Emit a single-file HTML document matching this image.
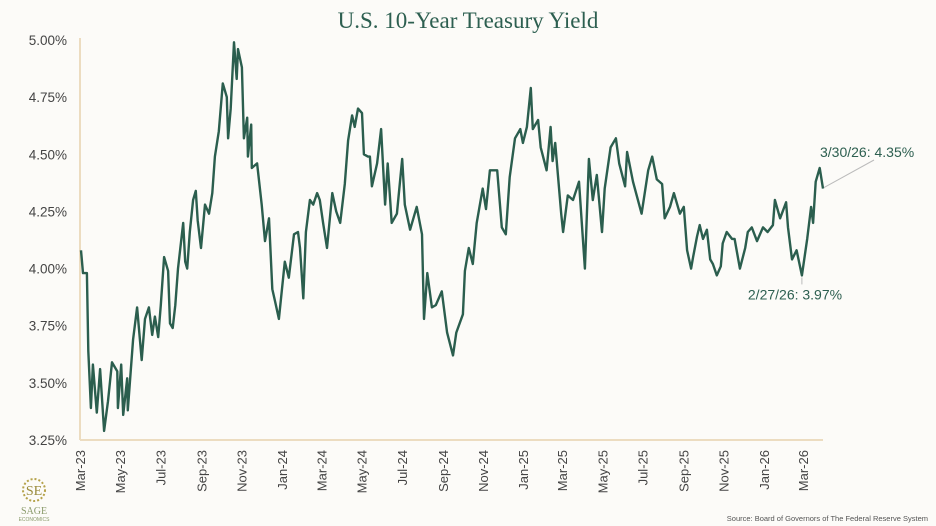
<!DOCTYPE html>
<html><head><meta charset="utf-8"><style>
body{margin:0;background:#fcfbf8;width:936px;height:526px;overflow:hidden;font-family:"Liberation Sans",sans-serif}
svg{display:block}
</style></head><body>
<svg id="chart" width="936" height="526">
<rect width="936" height="526" fill="#fcfbf8"/>
<text x="468" y="28" text-anchor="middle" font-family="Liberation Serif, serif" font-size="23" fill="#2d5f50">U.S. 10-Year Treasury Yield</text>
<g id="yaxis"></g>
<g id="xaxis"></g>
<line x1="80" y1="38" x2="80" y2="440" stroke="#ecdcc0" stroke-width="2"/>
<line x1="80" y1="440" x2="823" y2="440" stroke="#ecdcc0" stroke-width="2"/>
<path id="series" fill="none" stroke="#2b5e4e" stroke-width="2.4" stroke-linejoin="round"/>
<g id="annot"></g>
<text x="928" y="521" text-anchor="end" font-size="7.5" fill="#555">Source: Board of Governors of The Federal Reserve System</text>
<g>
<circle cx="34" cy="490" r="11" fill="none" stroke="#b5a24a" stroke-width="2" stroke-dasharray="2 2"/>
<text x="34" y="495" text-anchor="middle" font-family="Liberation Serif, serif" font-size="14" fill="#9a8b3c">SE</text>
<text x="34" y="514" text-anchor="middle" font-family="Liberation Serif, serif" font-size="10" fill="#8a9a6a">SAGE</text>
<text x="34" y="521" text-anchor="middle" font-size="5" fill="#8a9a6a">ECONOMICS</text>
</g>
</svg>
<script>
const days=[0,3,9,11,15,18,24,29,35,41,47,55,56,61,64,70,71,79,85,92,97,103,108,112,117,121,126,132,135,139,143,147,155,158,161,165,170,174,177,182,188,194,199,203,209,215,221,223,227,232,236,238,244,247,252,253,258,259,267,274,279,285,290,294,300,309,315,323,329,332,337,341,347,352,358,362,367,373,381,387,393,400,405,411,415,420,426,429,435,438,441,449,455,461,465,471,479,487,491,499,509,517,520,525,532,538,547,555,564,569,579,582,588,594,600,609,614,620,631,638,644,650,658,666,670,676,682,685,693,697,706,712,715,719,723,728,731,738,746,755,764,770,776,782,790,794,803,811,816,825,828,837,850,860,866,873,881,885,893,899,908,914,919,925,928,934,938,943,949,954,958,964,970,973,979,987,991,999,1007,1011,1017,1025,1034,1041,1049,1052,1060,1069,1072,1078,1085,1093,1101,1107,1110,1114,1120,1125];
const yields=[4.08,3.98,3.98,3.64,3.39,3.58,3.37,3.56,3.29,3.42,3.59,3.55,3.39,3.58,3.36,3.52,3.38,3.69,3.83,3.60,3.78,3.83,3.71,3.79,3.70,3.84,4.05,3.99,3.76,3.74,3.84,4.00,4.20,4.03,4.00,4.16,4.30,4.34,4.21,4.09,4.28,4.24,4.33,4.49,4.60,4.81,4.75,4.57,4.70,4.99,4.83,4.96,4.88,4.57,4.66,4.49,4.63,4.44,4.46,4.28,4.12,4.22,3.91,3.86,3.78,4.03,3.96,4.15,4.16,4.09,3.87,4.16,4.30,4.28,4.33,4.30,4.20,4.09,4.33,4.25,4.20,4.37,4.56,4.67,4.62,4.70,4.68,4.50,4.49,4.49,4.36,4.46,4.61,4.28,4.46,4.20,4.24,4.48,4.28,4.17,4.27,4.15,3.78,3.98,3.83,3.84,3.90,3.72,3.62,3.72,3.80,3.99,4.09,4.02,4.20,4.35,4.26,4.43,4.43,4.18,4.15,4.40,4.57,4.61,4.55,4.62,4.79,4.61,4.65,4.53,4.43,4.62,4.47,4.55,4.41,4.24,4.16,4.32,4.30,4.38,4.00,4.48,4.30,4.41,4.16,4.35,4.53,4.57,4.46,4.36,4.51,4.38,4.24,4.43,4.49,4.39,4.37,4.22,4.27,4.33,4.24,4.27,4.08,4.00,4.05,4.14,4.19,4.13,4.17,4.04,4.02,3.97,4.01,4.11,4.16,4.13,4.13,4.00,4.09,4.16,4.18,4.12,4.18,4.16,4.19,4.30,4.22,4.29,4.18,4.04,4.08,3.97,4.13,4.27,4.20,4.38,4.44,4.35];
const yTicks=[3.25,3.50,3.75,4.00,4.25,4.50,4.75,5.00];
const xTickLabels=["Mar-23","May-23","Jul-23","Sep-23","Nov-23","Jan-24","Mar-24","May-24","Jul-24","Sep-24","Nov-24","Jan-25","Mar-25","May-25","Jul-25","Sep-25","Nov-25","Jan-26","Mar-26"];
const xTickDays=[0,61,122,184,245,306,366,427,488,550,611,672,731,792,853,915,976,1037,1096];
const endLabel="3/30/26: 4.35%";
const lowLabel="2/27/26: 3.97%";
const lowDay=1093;
const NS="http://www.w3.org/2000/svg";
const X0=81,X1=823,D1=1125,Y0=440,Y1=40,V0=3.25,V1=5.0;
function xs(d){return X0+(d/D1)*(X1-X0);}
function ys(v){return Y0-(v-V0)/(V1-V0)*(Y0-Y1);}
function mk(t,a){const e=document.createElementNS(NS,t);for(const k in a)e.setAttribute(k,a[k]);return e;}
const ya=document.getElementById('yaxis');
yTicks.forEach(v=>{const t=mk('text',{x:67,y:ys(v)+5,'text-anchor':'end','font-size':'13.5',fill:'#444'});


t.textContent=v.toFixed(2)+'%';ya.appendChild(t);});
const xa=document.getElementById('xaxis');
xTickLabels.forEach((l,i)=>{const x=xs(xTickDays[i])+4;const t=mk('text',{x:x,y:450,'text-anchor':'end','font-size':'13',fill:'#444',transform:'rotate(-90 '+x+' 450)'});


t.textContent=l;xa.appendChild(t);});
let d='';days.forEach((dd,i)=>{d+=(i?'L':'M')+xs(dd).toFixed(1)+' '+ys(yields[i]).toFixed(1);});
document.getElementById('series').setAttribute('d',d);
const an=document.getElementById('annot');
{const i=yields.length-1;const px=xs(days[i]),py=ys(yields[i]);
const ln=mk('line',{x1:px+1,y1:py-1,x2:874,y2:160,stroke:'#bbb','stroke-width':1});


an.appendChild(ln);
const t=mk('text',{x:820,y:157,'font-size':'14',fill:'#2d5f50'});


t.textContent=endLabel;an.appendChild(t);}
{let i=days.indexOf(lowDay);const px=xs(days[i]),py=ys(yields[i]);
const ln=mk('line',{x1:px,y1:py+2,x2:px,y2:py+9,stroke:'#bbb','stroke-width':1});


an.appendChild(ln);
const t=mk('text',{x:px-54,y:py+24,'font-size':'14',fill:'#2d5f50'});


t.textContent=lowLabel;an.appendChild(t);}
</script>
</body></html>
